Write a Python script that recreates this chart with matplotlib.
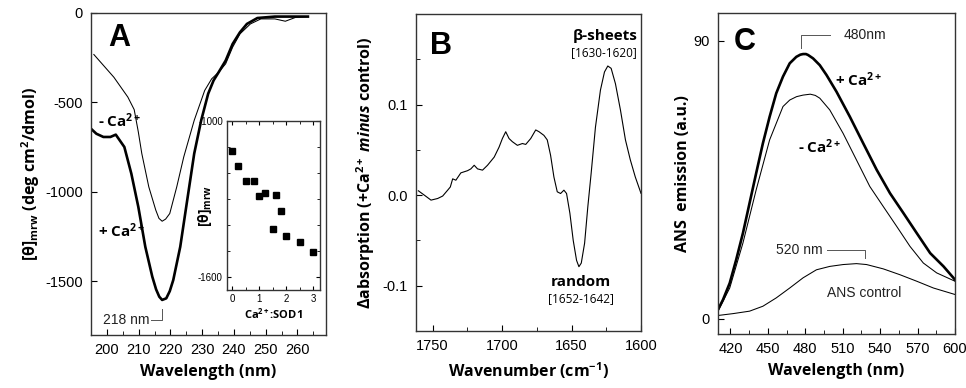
import numpy as np
import matplotlib
matplotlib.use("Agg")
import matplotlib.pyplot as plt
from matplotlib.ticker import MultipleLocator, FixedLocator, FormatStrFormatter

plt.rcParams["font.family"] = ["Liberation Sans", "DejaVu Sans"]
plt.rcParams["axes.unicode_minus"] = False
plt.rcParams["mathtext.fontset"] = "custom"
plt.rcParams["mathtext.rm"] = "Open Sans"
plt.rcParams["mathtext.bf"] = "Open Sans:bold"
plt.rcParams["mathtext.it"] = "Open Sans:italic"
plt.rcParams["mathtext.bfit"] = "Open Sans:italic:bold"

# ---- Panel A: CD spectra ----
cd_minus_nm = [195.9, 202.2, 206.6, 208.6, 209.9, 211.0, 213.2, 215.4, 216.4, 217.4, 218.5,
               219.8, 222.0, 224.2, 227.5, 230.8, 233.0, 235.2, 237.4, 239.6, 241.9, 245.2,
               248.5, 252.9, 256.2, 259.5, 263.3]
cd_minus_val = [-232, -359, -470, -540, -665, -786, -972, -1102, -1148, -1164, -1152,
                -1121, -972, -805, -600, -433, -368, -331, -284, -191, -117, -61,
                -33, -33, -46, -24, -20]
cd_plus_nm = [195.0, 196.7, 198.9, 201.1, 202.8, 205.5, 207.7, 209.9, 212.1, 214.3,
              215.5, 216.5, 217.4, 218.7, 219.8, 220.9, 223.1, 225.3, 227.5, 229.7, 231.9,
              233.6, 235.2, 237.4, 239.6, 241.9, 244.1, 247.4, 252.9, 259.5, 263.3]
cd_plus_val = [-647, -675, -693, -693, -680, -749, -898, -1084, -1307, -1474,
               -1545, -1586, -1604, -1595, -1555, -1493, -1307, -1046, -786, -600, -451,
               -377, -331, -266, -173, -108, -61, -28, -20, -20, -20]

# inset: titration
ratio = [0.0, 0.2, 0.5, 0.8, 1.0, 1.2, 1.6, 1.8, 1.5, 2.0, 2.5, 3.0]
theta = [-1117, -1172, -1230, -1230, -1287, -1275, -1285, -1345, -1416, -1444, -1465, -1503]

# ---- Panel B: FTIR difference ----
ir_wn = [1760.3, 1756.0, 1751.2, 1746.4, 1742.8, 1739.2, 1737.3, 1735.6, 1733.3, 1729.7,
         1724.9, 1722.5, 1720.1, 1717.7, 1714.1, 1710.5, 1705.7, 1702.2, 1699.8, 1697.4,
         1695.0, 1692.6, 1689.0, 1685.4, 1683.0, 1679.4, 1675.8, 1673.4, 1669.9, 1667.5,
         1665.1, 1662.7, 1660.3, 1657.9, 1655.5, 1653.6, 1651.2, 1648.8, 1646.4, 1644.7,
         1643.0, 1640.6, 1638.3, 1635.9, 1632.8, 1629.2, 1626.3, 1623.9, 1621.5, 1618.4,
         1614.8, 1611.2, 1607.7, 1604.1, 1600.0]
ir_abs = [0.0048, 0.0, -0.0055, -0.0037, -0.001, 0.0055, 0.009, 0.018, 0.0165, 0.0246,
          0.027, 0.029, 0.033, 0.029, 0.0276, 0.033, 0.042, 0.053, 0.0625, 0.070,
          0.0625, 0.059, 0.055, 0.057, 0.056, 0.0625, 0.072, 0.070, 0.066, 0.061,
          0.044, 0.020, 0.0037, 0.0018, 0.0055, 0.0018, -0.020, -0.050, -0.072, -0.079,
          -0.075, -0.053, -0.013, 0.024, 0.075, 0.116, 0.136, 0.1426, 0.140, 0.123,
          0.094, 0.061, 0.039, 0.020, 0.002]

# ---- Panel C: ANS emission ----
ans_plus_nm = [410, 414, 419.4, 424.6, 430, 435.3, 440.6, 446, 451.4, 456.7, 462.1, 467.5,
               472.8, 476.0, 478.2, 480.5, 482.2, 486.2, 491.6, 497, 505, 515.7, 526.4,
               537.2, 547.9, 558.6, 569.3, 580.1, 590.8, 600]
ans_plus = [2.9, 6.1, 11.5, 19.1, 27.7, 37.4, 47.1, 56.8, 65.4, 73.0, 78.4, 82.7,
            84.8, 85.5, 85.7, 85.7, 85.4, 84.3, 82.1, 78.9, 73.5, 65.4, 56.8,
            48.2, 40.6, 34.2, 27.7, 21.2, 16.9, 12.6]
ans_minus_nm = [410, 419.4, 430, 440.6, 451.4, 462.1, 467.5, 473.0, 478.2, 484, 488.0,
                491.6, 499.6, 510.3, 521, 531.7, 542.5, 553.2, 563.9, 574.6, 585.3, 600]
ans_minus = [2.4, 9.9, 24.5, 41.7, 57.9, 68.7, 70.8, 71.9, 72.4, 72.7, 72.3,
             71.4, 67.6, 60.0, 51.4, 42.8, 36.3, 29.9, 23.4, 18.0, 14.8, 12.1]
ans_ctrl_nm = [410, 422, 435.3, 446, 456.7, 467.5, 478.2, 488.9, 499.6, 510.3, 521,
               529.1, 542.5, 555.9, 569.3, 582.7, 600]
ans_ctrl = [1.0, 1.6, 2.4, 4.0, 6.7, 9.9, 13.2, 15.8, 16.9, 17.5, 17.8,
            17.5, 16.1, 14.2, 12.1, 9.9, 7.8]

W, H = 966, 388
fig = plt.figure(figsize=(W / 100, H / 100), dpi=100)


def px_axes(left, top, right, bottom):
    return fig.add_axes([left / W, 1 - bottom / H, (right - left) / W, (bottom - top) / H])


def style(ax, size=10.5):
    ax.tick_params(direction="in", which="both", labelsize=size, pad=6)
    ax.tick_params(which="major", length=4.5)
    ax.tick_params(which="minor", length=3)
    for s in ax.spines.values():
        s.set_linewidth(1.0)
        s.set_color("#333333")


bold = dict(family="Open Sans", fontweight="bold")
lab_size = 11.5
thick, thin = 1.9, 0.75

# ===== A =====
axA = px_axes(91, 13, 326, 335)
axA.plot(cd_minus_nm, cd_minus_val, color="black", lw=thin)
axA.plot(cd_plus_nm, cd_plus_val, color="black", lw=thick)
axA.set_xlim(195, 269)
axA.set_ylim(-1800, 0)
axA.xaxis.set_major_locator(MultipleLocator(10))
axA.xaxis.set_minor_locator(MultipleLocator(5))
axA.yaxis.set_major_locator(FixedLocator([0, -500, -1000, -1500]))
style(axA)
axA.set_xlabel("Wavelength (nm)", fontsize=lab_size, labelpad=5, **bold)
axA.set_ylabel(r"[θ]$_{\mathbf{mrw}}$ (deg cm$^{\mathbf{2}}$/dmol)", fontsize=lab_size, labelpad=2, **bold)
axA.text(200.5, -140, "A", fontsize=22, family="Liberation Sans", fontweight="bold", va="center")
axA.text(197.3, -600, r"- Ca$^{\mathbf{2+}}$", fontsize=11, va="center", **bold)
axA.text(197.3, -1215, r"+ Ca$^{\mathbf{2+}}$", fontsize=11, va="center", **bold)
# 218 nm bracket
axA.plot([214.0, 217.4, 217.4], [-1716, -1716, -1655], color="#555555", lw=0.7)
axA.text(213.5, -1716, "218 nm", fontsize=10, ha="right", va="center", color="#222222")

axI = px_axes(227, 121, 320, 290)
axI.plot(ratio, theta, "s", color="black", markersize=4.5)
axI.set_xlim(-0.2, 3.25)
axI.set_ylim(-1650, -1000)
axI.xaxis.set_major_locator(MultipleLocator(1))
axI.xaxis.set_minor_locator(MultipleLocator(0.5))
axI.yaxis.set_major_locator(FixedLocator([-1000, -1600]))
axI.yaxis.set_minor_locator(MultipleLocator(100))
style(axI, size=7)
axI.tick_params(which="both", top=True, right=True, pad=3)
axI.tick_params(which="major", length=3)
axI.tick_params(which="minor", length=2)
axI.set_xlabel(r"Ca$^{\mathbf{2+}}$:SOD1", fontsize=8, labelpad=2, **bold)
axI.set_ylabel(r"[θ]$_{\mathbf{mrw}}$", fontsize=10, **bold)
axI.yaxis.set_label_coords(-0.14, 0.5)

# ===== B =====
axB = px_axes(416, 14, 641, 331)
axB.plot(ir_wn, ir_abs, color="black", lw=0.8)
axB.set_xlim(1762, 1600)
axB.set_ylim(-0.15, 0.2)
axB.xaxis.set_major_locator(MultipleLocator(50))
axB.xaxis.set_minor_locator(MultipleLocator(25))
axB.yaxis.set_major_locator(FixedLocator([-0.1, 0.0, 0.1]))
axB.yaxis.set_minor_locator(FixedLocator([-0.05, 0.05, 0.15]))
axB.yaxis.set_major_formatter(FormatStrFormatter("%.1f"))
style(axB)
axB.set_xlabel(r"Wavenumber (cm$^{\mathbf{-1}}$)", fontsize=lab_size, labelpad=5, **bold)
axB.set_ylabel(r"Δabsorption (+Ca$^{\mathbf{2+}}$ $\mathbfit{minus}$ control)",
               fontsize=lab_size, labelpad=4, **bold)
axB.text(1752, 0.165, "B", fontsize=22, family="Liberation Sans", fontweight="bold", va="center")
axB.text(1626, 0.176, "β-sheets", fontsize=11, ha="center", va="center", **bold)
axB.text(1627, 0.157, "[1630-1620]", fontsize=8.5, ha="center", va="center", family="Open Sans")
axB.text(1643.5, -0.0956, "random", fontsize=11, ha="center", va="center", **bold)
axB.text(1643.5, -0.114, "[1652-1642]", fontsize=8.5, ha="center", va="center", family="Open Sans")

# ===== C =====
axC = px_axes(718, 13, 955, 334)
axC.plot(ans_plus_nm, ans_plus, color="black", lw=thick)
axC.plot(ans_minus_nm, ans_minus, color="black", lw=thin)
axC.plot(ans_ctrl_nm, ans_ctrl, color="black", lw=thin)
axC.set_xlim(410, 600)
axC.set_ylim(-5, 99)
axC.xaxis.set_major_locator(MultipleLocator(30))
axC.xaxis.set_minor_locator(MultipleLocator(15))
axC.yaxis.set_major_locator(FixedLocator([0, 90]))
style(axC)
axC.set_xlabel("Wavelength (nm)", fontsize=lab_size, labelpad=5, **bold)
axC.set_ylabel("ANS  emission (a.u.)", fontsize=lab_size, labelpad=2, **bold)
axC.text(423, 89.5, "C", fontsize=22, family="Liberation Sans", fontweight="bold", va="center")
axC.plot([476.8, 476.8, 499.6], [87.5, 91.8, 91.8], color="#555555", lw=0.7)
axC.text(527.8, 91.8, "480nm", fontsize=10, ha="center", va="center", color="#222222")
axC.text(503.6, 77.3, r"+ Ca$^{\mathbf{2+}}$", fontsize=11, va="center", **bold)
axC.text(474, 55.7, r"- Ca$^{\mathbf{2+}}$", fontsize=11, va="center", **bold)
axC.plot([497, 527.8, 527.8], [22.3, 22.3, 19.6], color="#555555", lw=0.7)
axC.text(475, 22.3, "520 nm", fontsize=10, ha="center", va="center", color="#222222")
axC.text(527, 8.3, "ANS control", fontsize=10, ha="center", va="center", color="#222222")

fig.savefig("out.png", dpi=100)
